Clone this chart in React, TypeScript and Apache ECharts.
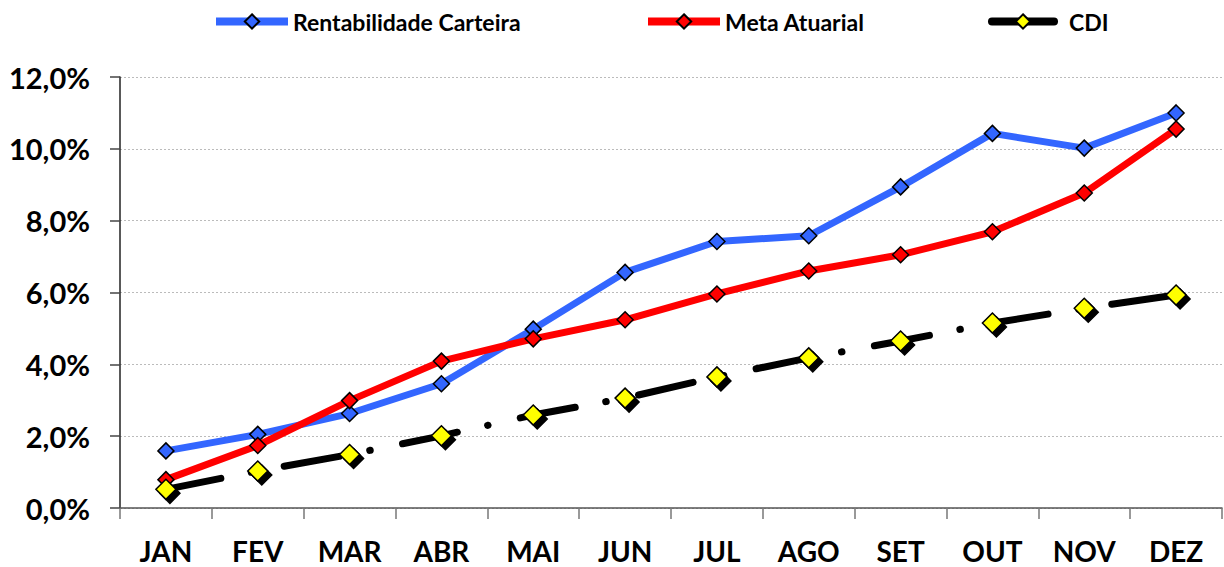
import React, { useEffect, useRef } from "react";
import * as echarts from "echarts";

const months = ["JAN", "FEV", "MAR", "ABR", "MAI", "JUN", "JUL", "AGO", "SET", "OUT", "NOV", "DEZ"];
const rentabilidade = [1.59, 2.05, 2.63, 3.46, 4.98, 6.56, 7.42, 7.58, 8.94, 10.43, 10.02, 11.0];
const meta = [0.79, 1.74, 2.99, 4.09, 4.71, 5.24, 5.96, 6.6, 7.05, 7.69, 8.77, 10.55];
const cdi = [0.52, 1.03, 1.49, 2.01, 2.59, 3.06, 3.65, 4.18, 4.65, 5.15, 5.56, 5.93];
const yTicks = { min: 0, max: 12, interval: 2 };

const FONT = "Lato";

export default function App() {
  const ref = useRef<HTMLDivElement>(null);
  useEffect(() => {
    if (!ref.current) return;
    const chart = echarts.init(ref.current, undefined, { renderer: "svg" });
    const mkLegend = (name: string, left: number, iconW: number, padLeft: number) => ({
      data: [name],
      left,
      top: 10,
      padding: 0,
      itemWidth: iconW,
      itemHeight: 18,
      itemGap: 4,
      textStyle: {
        fontFamily: FONT,
        fontWeight: "bold",
        fontSize: 23,
        color: "#000",
        padding: [0, 0, 0, padLeft],
      },
      lineStyle: { type: "solid", width: 8 },
      selectedMode: false,
    });
    chart.setOption({
      animation: false,
      backgroundColor: "#fff",
      legend: [
        mkLegend("Rentabilidade Carteira", 212, 72, 0),
        mkLegend("Meta Atuarial", 644, 72, 0),
        mkLegend("CDI", 988, 62, 10),
      ],
      grid: { left: 120, right: 2, top: 77, bottom: 59, containLabel: false },
      xAxis: {
        type: "category",
        data: months,
        boundaryGap: true,
        axisLine: { lineStyle: { color: "#555", width: 1.5 } },
        axisTick: { show: true, length: 11, inside: false, lineStyle: { color: "#777", width: 1.5 } },
        axisLabel: { fontFamily: FONT, fontWeight: "bold", fontSize: 28, color: "#000", margin: 29 },
        splitLine: { show: false },
      },
      yAxis: {
        type: "value",
        min: yTicks.min,
        max: yTicks.max,
        interval: yTicks.interval,
        axisLine: { show: true, lineStyle: { color: "#222", width: 1.5 } },
        axisTick: { show: true, length: 10, inside: false, lineStyle: { color: "#444", width: 1.5 } },
        axisLabel: {
          fontFamily: FONT,
          fontWeight: "bold",
          fontSize: 29,
          color: "#000",
          margin: 30,
          formatter: (v: number) => v.toFixed(1).replace(".", ",") + "%",
        },
        splitLine: { show: true, lineStyle: { color: "#bbb", type: [2, 2], width: 1 } },
      },
      series: [
        {
          name: "Rentabilidade Carteira",
          type: "line",
          data: rentabilidade,
          symbol: "diamond",
          symbolSize: 16,
          lineStyle: { color: "#3366ff", width: 7 },
          itemStyle: { color: "#3366ff", borderColor: "#000", borderWidth: 1.5 },
          z: 3,
        },
        {
          name: "Meta Atuarial",
          type: "line",
          data: meta,
          symbol: "diamond",
          symbolSize: 16,
          lineStyle: { color: "#ff0000", width: 7 },
          itemStyle: { color: "#ff0000", borderColor: "#000", borderWidth: 1.5 },
          z: 4,
        },
        {
          name: "CDI",
          type: "line",
          data: cdi,
          symbol: "diamond",
          symbolSize: 20,
          lineStyle: { color: "#000", width: 7, type: [56, 31, 0.5, 33], cap: "round" },
          itemStyle: {
            color: "#ffff00",
            borderColor: "#000",
            borderWidth: 1.5,
            shadowColor: "#000",
            shadowOffsetX: 4,
            shadowOffsetY: 4,
            shadowBlur: 0,
          },
          z: 5,
        },
      ],
    });
    return () => chart.dispose();
  }, []);
  return <div ref={ref} style={{ width: 1224, height: 567, position: "absolute", left: 0, top: 0 }} />;
}
